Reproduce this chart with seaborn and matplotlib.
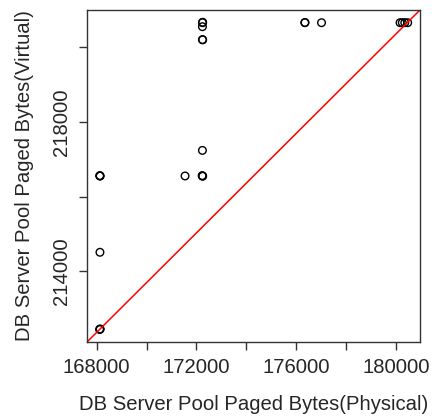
import matplotlib
matplotlib.use("Agg")
import matplotlib.pyplot as plt
import seaborn as sns
import numpy as np
import pandas as pd

# Data
x_phys = [168133, 168140, 168120, 168133, 168133, 168140, 168125, 171544,
          172240, 172250, 172230, 172240, 172240, 172250, 172240, 172240, 172250,
          176344, 176350, 177013, 180160, 180250, 180350, 180466]
y_virt = [212445, 212450, 212440, 214507, 216552, 216552, 216560, 216552,
          216552, 216545, 216560, 217237, 220205, 220200, 220552, 220659, 220670,
          220659, 220665, 220659, 220659, 220659, 220659, 220659]

x_ticks = [168000, 170000, 172000, 174000, 176000, 178000, 180000]
x_labels = ["168000", "", "172000", "", "176000", "", "180000"]
y_ticks = [214000, 216000, 218000, 220000]
y_labels = ["214000", "", "218000", ""]

xlabel = "DB Server Pool Paged Bytes(Physical)"
ylabel = "DB Server Pool Paged Bytes(Virtual)"

sns.set_style("white")
plt.rcParams['font.family'] = ['Liberation Sans', 'DejaVu Sans']

df = pd.DataFrame({"x": x_phys, "y": y_virt})

fig = plt.figure(figsize=(4.37, 4.19), dpi=100)
ax = fig.add_axes([87.3/437, 1-341.7/419, (420-87.3)/437, (341.7-10)/419])

sns.scatterplot(data=df, x="x", y="y", ax=ax, marker="o", s=30,
                facecolor="none", edgecolor="black", linewidth=1.0, legend=False)

# R-style 4% padding
xmin, xmax = min(x_phys), max(x_phys)
ymin, ymax = min(y_virt), max(y_virt)
xp = 0.04*(xmax-xmin); yp = 0.04*(ymax-ymin)
xlim = (xmin-xp, xmax+xp); ylim = (ymin-yp, ymax+yp)
ax.set_xlim(xlim); ax.set_ylim(ylim)
ax.plot(xlim, ylim, color="red", linewidth=1.1)

fs = 14.6
ax.set_xticks(x_ticks)
ax.set_xticklabels(x_labels)
ax.set_yticks(y_ticks)
ax.set_yticklabels(y_labels, rotation=90, va="center")
ax.tick_params(axis="both", direction="out", length=5.5, width=1, color="#333333",
               labelsize=fs, pad=6.5, bottom=True, left=True)
for s in ax.spines.values():
    s.set_color("#333333"); s.set_linewidth(1.0)
ax.set_xlabel(xlabel, fontsize=fs, labelpad=12.5)
ax.set_ylabel(ylabel, fontsize=fs, labelpad=12.5)

fig.savefig("out.png", dpi=100)
